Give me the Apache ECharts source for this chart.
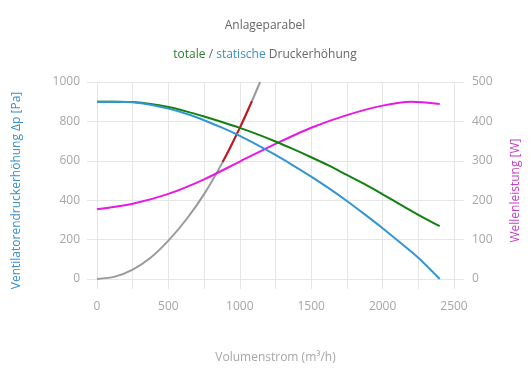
<!DOCTYPE html>
<html>
<head>
<meta charset="utf-8">
<script src="https://cdn.jsdelivr.net/npm/echarts@6/dist/echarts.min.js"></script>
<style>html,body{margin:0;padding:0;background:#fff}#c{width:530px;height:390px}</style>
</head>
<body>
<div id="c"></div>
<script>
// Fan curves (flow in m³/h)
const flowPoints = [0, 125, 250, 375, 500, 625, 750, 875, 1000, 1125, 1250, 1375, 1500, 1625, 1750, 1875, 2000, 2125, 2250, 2400];
const staticPressure = [900, 900, 897, 885, 865, 839, 806, 768, 727, 680, 630, 576, 520, 460, 396, 328, 258, 184, 108, 0];
const totalPressure = [900, 900, 898, 889, 873, 851, 825, 797, 767, 734, 698, 659, 618, 575, 528, 481, 430, 378, 326, 268];
const powerFlow = [0, 250, 500, 750, 1000, 1250, 1500, 1750, 2000, 2200, 2400];
const shaftPower = [177, 191, 216, 253, 298, 343, 384, 416, 440, 450, 444];
// System curve (Anlageparabel)
const systemFlow = [0, 125, 250, 375, 500, 625, 750, 875, 1000, 1075, 1142];
const systemPressure = [0, 12, 48, 108, 195, 302, 431, 587, 767, 886, 1000];
const operatingFlow = [880, 940, 1000, 1040, 1085];
const operatingPressure = [594, 678, 767, 830, 903];
// Tick settings
const xTicks = [0, 500, 1000, 1500, 2000, 2500];

const pairs = (xs, ys) => xs.map((x, i) => [x, ys[i]]);
const FONT = 'Open Sans';
const gridColor = '#e6e6e6';
const labelColor = '#a6a6a6';

const chart = echarts.init(document.getElementById('c'));
const lineBase = { type: 'line', smooth: 0.3, symbol: 'none' };
chart.setOption({
  animation: false,
  textStyle: { fontFamily: FONT },
  title: [
    { text: 'Anlageparabel', left: 'center', top: 15,
      textStyle: { fontFamily: FONT, fontSize: 12, fontWeight: 'normal', color: '#666' } },
    { text: '{g|totale} {d|/} {b|statische} {d|Druckerhöhung}', left: 'center', top: 44,
      textStyle: { fontFamily: FONT, fontSize: 12, fontWeight: 'normal', color: '#666',
        rich: {
          g: { color: '#2e7d2e', fontFamily: FONT, fontSize: 12 },
          b: { color: '#3a8fc8', fontFamily: FONT, fontSize: 12 },
          d: { color: '#666', fontFamily: FONT, fontSize: 12 }
        } } }
  ],
  grid: { left: 97, right: 75, top: 82, bottom: 111 },
  xAxis: {
    type: 'value', min: 0, max: 2500, interval: 250,
    name: 'Volumenstrom (m³/h)', nameLocation: 'middle', nameGap: 73,
    nameTextStyle: { color: labelColor, fontSize: 12, fontFamily: FONT },
    axisLine: { show: true, lineStyle: { color: gridColor } },
    axisTick: { show: true, length: 10, lineStyle: { color: gridColor } },
    axisLabel: { color: labelColor, fontSize: 12, margin: 22, fontFamily: FONT,
      formatter: v => xTicks.includes(v) ? String(v) : '' },
    splitLine: { show: true, lineStyle: { color: gridColor } }
  },
  yAxis: [
    { type: 'value', min: 0, max: 1000, interval: 200, position: 'left',
      name: 'Ventilatorendruckerhöhung Δp [Pa]', nameLocation: 'middle', nameGap: 74, nameRotate: 90,
      nameTextStyle: { color: '#3a8fc8', fontSize: 12, fontFamily: FONT, padding: [0, 20, 0, 0] },
      axisLine: { show: true, lineStyle: { color: gridColor } },
      axisTick: { show: true, length: 10, lineStyle: { color: gridColor } },
      axisLabel: { color: labelColor, fontSize: 12, margin: 17, fontFamily: FONT, formatter: v => String(v) },
      splitLine: { show: true, lineStyle: { color: gridColor } } },
    { type: 'value', min: 0, max: 500, interval: 100, position: 'right',
      name: 'Wellenleistung [W]', nameLocation: 'middle', nameGap: 56, nameRotate: 90,
      nameTextStyle: { color: '#c43cc4', fontSize: 12, fontFamily: FONT, padding: [0, 20, 0, 0] },
      axisLine: { show: true, lineStyle: { color: gridColor } },
      axisTick: { show: true, length: 10, lineStyle: { color: gridColor } },
      axisLabel: { color: labelColor, fontSize: 12, margin: 18, fontFamily: FONT, formatter: v => String(v) },
      splitLine: { show: false } }
  ],
  series: [
    Object.assign({}, lineBase, { name: 'Anlageparabel', yAxisIndex: 0,
      data: pairs(systemFlow, systemPressure), lineStyle: { color: '#9a9a9a', width: 2 } }),
    Object.assign({}, lineBase, { name: 'Betriebsbereich', yAxisIndex: 0,
      data: pairs(operatingFlow, operatingPressure), lineStyle: { color: '#c8141e', width: 2 } }),
    Object.assign({}, lineBase, { name: 'Wellenleistung', yAxisIndex: 1,
      data: pairs(powerFlow, shaftPower), lineStyle: { color: '#e619e6', width: 2 } }),
    Object.assign({}, lineBase, { name: 'totale', yAxisIndex: 0,
      data: pairs(flowPoints, totalPressure), lineStyle: { color: '#138013', width: 2 } }),
    Object.assign({}, lineBase, { name: 'statische', yAxisIndex: 0,
      data: pairs(flowPoints, staticPressure), lineStyle: { color: '#3396d3', width: 2 } })
  ]
});
</script>
</body>
</html>
